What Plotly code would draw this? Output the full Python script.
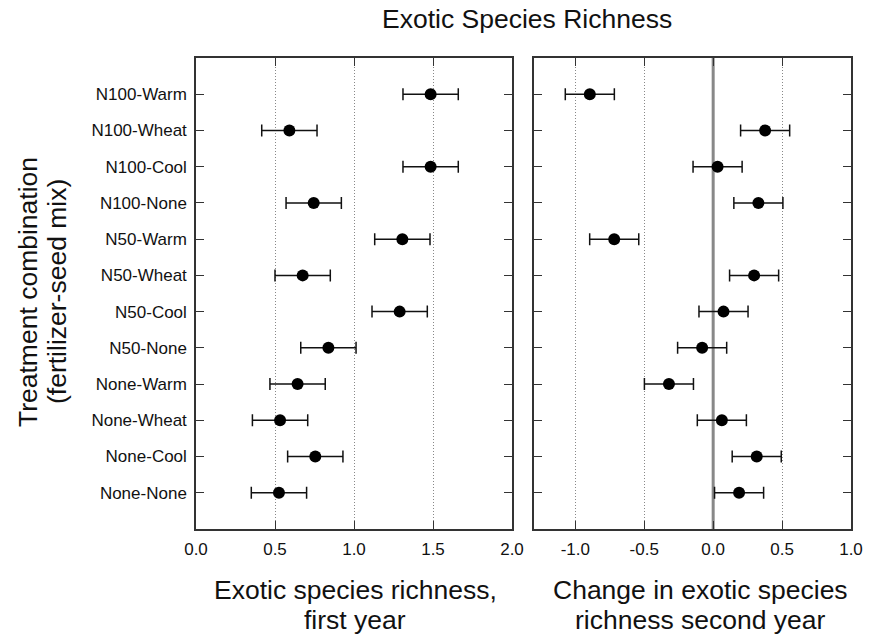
import plotly.graph_objects as go

# Categories from bottom to top
categories = ["None-None", "None-Cool", "None-Wheat", "None-Warm",
              "N50-None", "N50-Cool", "N50-Wheat", "N50-Warm",
              "N100-None", "N100-Cool", "N100-Wheat", "N100-Warm"]

first_year = [0.525, 0.755, 0.532, 0.643,
              0.838, 1.289, 0.675, 1.306,
              0.745, 1.485, 0.591, 1.485]
first_year_se = [0.175] * 12

change_second = [0.188, 0.316, 0.063, -0.321,
                 -0.080, 0.075, 0.297, -0.718,
                 0.328, 0.032, 0.377, -0.895]
change_second_se = [0.178] * 12

left_ticks = [0.0, 0.5, 1.0, 1.5, 2.0]
right_ticks = [-1.0, -0.5, 0.0, 0.5, 1.0]

W, H = 869, 640
FONT = "Liberation Sans, Arial, sans-serif"

fig = go.Figure()
marker = dict(color="black", size=12, symbol="circle")
fig.add_trace(go.Scatter(
    x=first_year, y=categories, mode="markers", marker=marker,
    error_x=dict(type="data", array=first_year_se, color="#111", thickness=1.5, width=6),
    xaxis="x", yaxis="y", showlegend=False))
fig.add_trace(go.Scatter(
    x=change_second, y=categories, mode="markers", marker=marker,
    error_x=dict(type="data", array=change_second_se, color="#111", thickness=1.5, width=6),
    xaxis="x2", yaxis="y2", showlegend=False))

x1dom = [196 / W, 512 / W]
x2dom = [534 / W, 851 / W]
ydom = [1 - 529 / H, 1 - 58 / H]

axis_common = dict(
    showline=True, linecolor="#333", linewidth=1.5, mirror="ticks",
    ticks="inside", ticklen=8, tickcolor="#333", tickwidth=1.2,
    zeroline=False, automargin=False,
    tickfont=dict(family=FONT, size=17, color="#111"),
)

fig.update_layout(
    width=W, height=H, autosize=False,
    margin=dict(l=0, r=0, t=0, b=0, pad=0, autoexpand=False),
    paper_bgcolor="white", plot_bgcolor="white",
    font=dict(family=FONT, color="#111"),
    xaxis=dict(domain=x1dom, anchor="y", range=[0, 2.0], tickvals=left_ticks,
               ticktext=[f"{v:.1f}" for v in left_ticks],
               showgrid=True, gridcolor="#888", griddash="1px,2px", gridwidth=1,
               ticklabelstandoff=4, **axis_common),
    xaxis2=dict(domain=x2dom, anchor="y2", range=[-1.3, 1.0], tickvals=right_ticks,
                ticktext=[f"{v:.1f}" for v in right_ticks],
                showgrid=True, gridcolor="#888", griddash="1px,2px", gridwidth=1,
                ticklabelstandoff=4, **axis_common),
    yaxis=dict(domain=ydom, anchor="x", type="category", categoryorder="array",
               categoryarray=categories, range=[-1, 12], showgrid=False,
               ticklabelstandoff=4, **axis_common),
    yaxis2=dict(domain=ydom, anchor="x2", type="category", categoryorder="array",
                categoryarray=categories, range=[-1, 12], showgrid=False,
                showticklabels=False, **axis_common),
)

# zero reference line on the right panel
fig.add_shape(type="line", xref="x2", yref="y2 domain", x0=0, x1=0, y0=0, y1=1,
              line=dict(color="#888", width=3), layer="below")

TF = dict(family=FONT, size=26.5, color="#111")
annots = [
    dict(text="Exotic Species Richness", x=527 / W, y=1 - 19 / H),
    dict(text="Exotic species richness,", x=355 / W, y=1 - 590 / H),
    dict(text="first year", x=355 / W, y=1 - 620 / H),
    dict(text="Change in exotic species", x=700 / W, y=1 - 590 / H),
    dict(text="richness second year", x=700 / W, y=1 - 620 / H),
]
for a in annots:
    fig.add_annotation(xref="paper", yref="paper", showarrow=False,
                       xanchor="center", yanchor="middle", font=TF, **a)
fig.add_annotation(text="Treatment combination", xref="paper", yref="paper",
                   x=28 / W, y=1 - 292 / H, textangle=-90, showarrow=False,
                   xanchor="center", yanchor="middle", font=TF)
fig.add_annotation(text="(fertilizer-seed mix)", xref="paper", yref="paper",
                   x=57 / W, y=1 - 292 / H, textangle=-90, showarrow=False,
                   xanchor="center", yanchor="middle", font=TF)

fig.write_html("out.html", config={"displayModeBar": False},
               post_script="document.body.style.margin='0px';document.body.style.overflow='hidden';")
